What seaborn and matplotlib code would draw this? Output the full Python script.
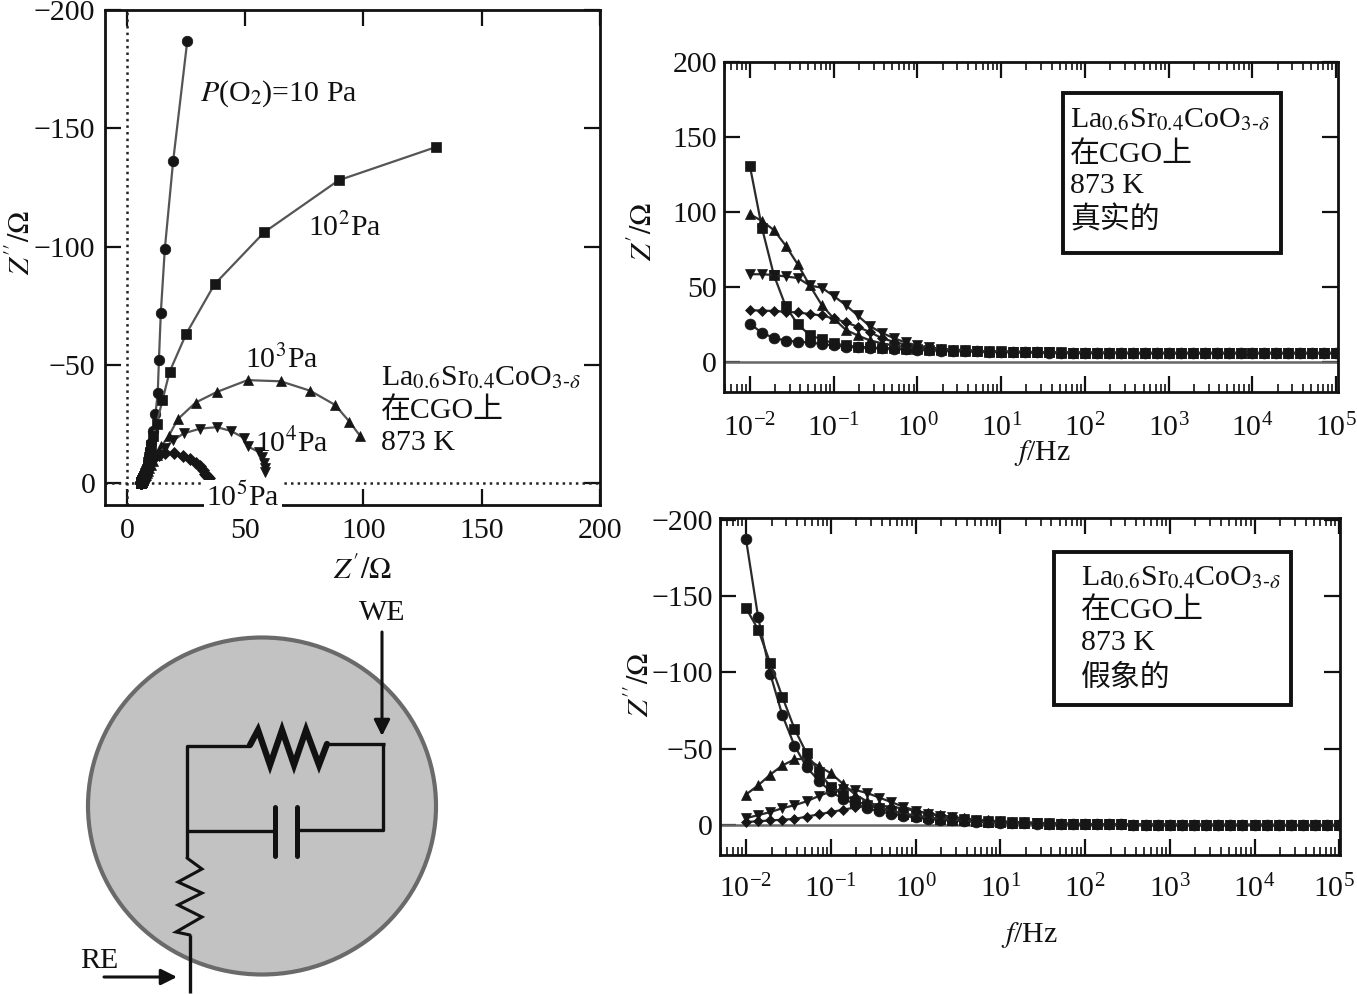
import numpy as np
import pandas as pd
import matplotlib
matplotlib.use("Agg")
import matplotlib.pyplot as plt
from matplotlib.patches import Ellipse, Rectangle
from matplotlib.ticker import FixedLocator, LogLocator, NullFormatter
from matplotlib.transforms import ScaledTranslation
import seaborn as sns

# -----------------------------------------------------
# DATA
# -----------------------------------------------------

freq = [
    0.01, 0.0139, 0.0193, 0.0268, 0.0373, 0.0518, 0.072,
    0.1, 0.139, 0.193, 0.268, 0.373, 0.518, 0.72,
    1, 1.39, 1.93, 2.68, 3.73, 5.18, 7.2,
    10, 13.9, 19.3, 26.8, 37.3, 51.8, 72,
    100, 139, 193, 268, 373, 518, 720,
    1000, 1390, 1930, 2680, 3730, 5180, 7200,
    10000, 13900, 19300, 26800, 37300, 51800, 72000,
    100000,
]

zre_10 = [
    25.5, 19.5, 16, 14.3, 13.5, 13, 12, 11, 10.3, 9.8,
    9.4, 9.1, 8.8, 8.5, 8.2, 7.9, 7.6, 7.4, 7.2, 7.0,
    6.8, 6.7, 6.6, 6.5, 6.4, 6.3, 6.2, 6.2, 6.1, 6.1,
    6.1, 6, 6, 6, 6, 6, 6, 6, 6, 6,
    6, 6, 6, 6, 6, 6, 6, 6, 6, 6,
]
zim_10 = [
    -187, -136, -99, -72, -52, -38, -29, -22, -17, -14,
    -11, -9, -7.5, -6, -5, -4, -3.5, -3, -2.6, -2.2,
    -1.9, -1.6, -1.4, -1.2, -1, -0.9, -0.8, -0.7, -0.6, -0.5,
    -0.4, -0.4, -0.3, -0.3, -0.3, -0.2, -0.2, -0.2, -0.2, -0.1,
    -0.1, -0.1, -0.1, -0.1, 0, 0, 0, 0, 0, 0,
]

zre_100 = [
    130.5, 89.5, 58, 37, 25, 18, 15, 12.5, 11, 10.2,
    9.7, 9.3, 9, 8.7, 8.4, 8.1, 7.8, 7.5, 7.3, 7.1,
    6.9, 6.8, 6.7, 6.6, 6.5, 6.4, 6.3, 6.2, 6.2, 6.1,
    6.1, 6.1, 6, 6, 6, 6, 6, 6, 6, 6,
    6, 6, 6, 6, 6, 6, 6, 6, 6, 6,
]
zim_100 = [
    -142, -128, -106, -84, -63, -47, -35, -25, -20, -16,
    -13, -11, -9, -7.5, -6, -5, -4.2, -3.5, -3, -2.5,
    -2.1, -1.8, -1.5, -1.3, -1.1, -0.9, -0.8, -0.7, -0.6, -0.5,
    -0.4, -0.4, -0.3, -0.3, -0.3, -0.2, -0.2, -0.2, -0.2, -0.1,
    -0.1, -0.1, -0.1, -0.1, 0, 0, 0, 0, 0, 0,
]

zre_1000 = [
    98.5, 94, 88, 77.5, 65, 51, 38, 29, 21.5, 17.7,
    14.5, 12.5, 11, 10, 9.3, 8.8, 8.4, 8, 7.7, 7.4,
    7.1, 6.9, 6.8, 6.7, 6.6, 6.5, 6.4, 6.3, 6.2, 6.2,
    6.1, 6.1, 6, 6, 6, 6, 6, 6, 6, 6,
    6, 6, 6, 6, 6, 6, 6, 6, 6, 6,
]
zim_1000 = [
    -20, -26, -33, -39, -43, -43.5, -38.5, -34, -27, -20,
    -15.5, -12, -9.5, -7.5, -6.2, -5, -4.2, -3.5, -3, -2.5,
    -2.1, -1.8, -1.5, -1.3, -1.1, -0.9, -0.8, -0.7, -0.6, -0.5,
    -0.4, -0.4, -0.3, -0.3, -0.3, -0.2, -0.2, -0.2, -0.2, -0.1,
    -0.1, -0.1, -0.1, -0.1, 0, 0, 0, 0, 0, 0,
]

zre_1e4 = [
    58.5, 58.5, 58, 57, 56, 51, 49.5, 44, 38, 31,
    24, 19.5, 16, 13, 11, 9.7, 8.9, 8.3, 7.9, 7.5,
    7.2, 7, 6.8, 6.7, 6.6, 6.5, 6.4, 6.3, 6.2, 6.2,
    6.1, 6.1, 6, 6, 6, 6, 6, 6, 6, 6,
    6, 6, 6, 6, 6, 6, 6, 6, 6, 6,
]
zim_1e4 = [
    -4.5, -6.5, -8.5, -11, -13, -15.5, -19, -22, -23.6, -23,
    -21, -18, -15, -12, -9.5, -7.5, -6, -5, -4, -3.4,
    -2.8, -2.4, -2, -1.7, -1.4, -1.2, -1, -0.8, -0.7, -0.6,
    -0.5, -0.4, -0.3, -0.3, -0.3, -0.2, -0.2, -0.2, -0.2, -0.1,
    -0.1, -0.1, -0.1, -0.1, 0, 0, 0, 0, 0, 0,
]

zre_1e5 = [
    34.5, 34.3, 34, 33.5, 33, 32, 31, 29, 26.5, 23.5,
    20, 16, 13.5, 11.5, 10, 9, 8.4, 8, 7.6, 7.3,
    7, 6.8, 6.7, 6.6, 6.5, 6.4, 6.3, 6.2, 6.2, 6.1,
    6.1, 6.1, 6, 6, 6, 6, 6, 6, 6, 6,
    6, 6, 6, 6, 6, 6, 6, 6, 6, 6,
]
zim_1e5 = [
    -2, -2.5, -3, -3.5, -4, -5.5, -7, -8.5, -10, -11.5,
    -12.5, -12.7, -12, -10.8, -9.3, -7.8, -6.5, -5.4, -4.4, -3.6,
    -3, -2.5, -2.1, -1.8, -1.5, -1.2, -1, -0.8, -0.7, -0.6,
    -0.5, -0.4, -0.3, -0.3, -0.3, -0.2, -0.2, -0.2, -0.2, -0.1,
    -0.1, -0.1, -0.1, -0.1, 0, 0, 0, 0, 0, 0,
]

pressures = ["10", "100", "1000", "1e4", "1e5"]
zre_all = [zre_10, zre_100, zre_1000, zre_1e4, zre_1e5]
zim_all = [zim_10, zim_100, zim_1000, zim_1e4, zim_1e5]

df = pd.concat(
    [
        pd.DataFrame({"p": p, "f": freq, "zre": re, "zim": im})
        for p, re, im in zip(pressures, zre_all, zim_all)
    ],
    ignore_index=True,
)

markers = {"10": "o", "100": "s", "1000": "^", "1e4": "v", "1e5": "D"}
sizes_left = {"10": 7.6, "100": 6.6, "1000": 6.6, "1e4": 6.6, "1e5": 6.0}
sizes_right = {"10": 7.8, "100": 7.0, "1000": 7.0, "1e4": 7.0, "1e5": 5.0}

# -----------------------------------------------------
# FIGURE SETUP
# -----------------------------------------------------

W, H = 1357, 994
FS = 21.5

sns.set_theme(style="ticks")
plt.rcParams["font.family"] = ["Liberation Serif", "Noto Sans CJK SC", "DejaVu Sans"]
plt.rcParams["mathtext.fontset"] = "stix"
plt.rcParams["axes.unicode_minus"] = True

fig = plt.figure(figsize=(W / 100, H / 100), dpi=100, facecolor="white")


def px_axes(left, top, right, bottom):
    return fig.add_axes([left / W, 1 - bottom / H, (right - left) / W, (bottom - top) / H])


def draw_series(ax, xcol, ycol, line_color, sizes):
    for p in pressures:
        sns.lineplot(
            data=df[df["p"] == p],
            x=xcol,
            y=ycol,
            sort=False,
            estimator=None,
            ax=ax,
            color=line_color,
            linewidth=1.6,
            marker=markers[p],
            markersize=sizes[p],
            markerfacecolor="#161616",
            markeredgecolor="#161616",
            markeredgewidth=0.5,
            zorder=3,
        )


def style_axes(ax, lw=2.0):
    for s in ax.spines.values():
        s.set_linewidth(lw)
        s.set_color("#111111")
    ax.tick_params(
        which="major", direction="in", top=True, right=True, length=11.5, width=1.6,
        color="#111111", labelsize=FS, labelcolor="#111111",
    )


def label_at(ax, axis, text, px, py):
    # put an axis label at a given pixel position
    x0, y0, w, h = ax.get_position().bounds
    ax_x = (px / W - x0) / w
    ax_y = ((1 - py / H) - y0) / h
    if axis == "x":
        ax.set_xlabel(text, fontsize=FS, color="#111111")
        ax.xaxis.set_label_coords(ax_x, ax_y)
        ax.xaxis.label.set_va("center")
    else:
        ax.set_ylabel(text, fontsize=FS, color="#111111")
        ax.yaxis.set_label_coords(ax_x, ax_y)
        ax.yaxis.label.set_va("center")


# -----------------------------------------------------
# NYQUIST PLOT
# -----------------------------------------------------

ax1 = px_axes(105, 10, 600, 505)
draw_series(ax1, "zre", "zim", "#555555", sizes_left)
ax1.axvline(0, color="#222222", linestyle=":", linewidth=1.8, zorder=1)
ax1.axhline(0, color="#222222", linestyle=":", linewidth=1.8, zorder=1)
ax1.set_xlim(-9.3, 200)
ax1.set_ylim(9.3, -200)
ax1.xaxis.set_major_locator(FixedLocator([0, 50, 100, 150, 200]))
ax1.yaxis.set_major_locator(FixedLocator([-200, -150, -100, -50, 0]))
style_axes(ax1)
ax1.tick_params(axis="x", pad=9)
ax1.tick_params(axis="y", pad=7)
label_at(ax1, "x", r"$Z^{\prime}/\mathrm{\Omega}$", 362, 571)
label_at(ax1, "y", r"$Z^{\prime\prime}/\mathrm{\Omega}$", 22, 243)

# -----------------------------------------------------
# BODE PLOTS
# -----------------------------------------------------

ax2 = px_axes(724, 62, 1338, 392)
ax3 = px_axes(720, 518, 1340, 855)
for ax, ycol, xpad in [(ax2, "zre", 16), (ax3, "zim", 14)]:
    ax.set_xscale("log")
    draw_series(ax, "f", ycol, "#2a2a2a", sizes_right)
    ax.axhline(0, color="#666666", linewidth=1.8, zorder=2)
    style_axes(ax)
    ax.xaxis.set_major_locator(LogLocator(base=10, numticks=20))
    ax.xaxis.set_minor_locator(LogLocator(base=10, subs=np.arange(2, 10), numticks=20))
    ax.xaxis.set_minor_formatter(NullFormatter())
    ax.tick_params(which="minor", direction="in", top=True, length=5.5, width=1.2, color="#111111")
    ax.tick_params(axis="x", pad=xpad)
    ax.tick_params(axis="y", pad=5)

ax2.set_xlim(0.0049, 105000)
ax2.set_ylim(-20, 200)
ax2.yaxis.set_major_locator(FixedLocator([0, 50, 100, 150, 200]))
label_at(ax2, "x", r"$f$/Hz", 1043, 453)
label_at(ax2, "y", r"$Z^{\prime}/\mathrm{\Omega}$", 644, 232)

ax3.set_xlim(0.00493, 102000)
ax3.set_ylim(19.6, -201)
ax3.yaxis.set_major_locator(FixedLocator([-200, -150, -100, -50, 0]))
label_at(ax3, "x", r"$f$/Hz", 1030, 935)
label_at(ax3, "y", r"$Z^{\prime\prime}/\mathrm{\Omega}$", 641, 685)

# the last decade label sits tight against the image edge, nudge it inward
fig.canvas.draw()
for tick in ax3.xaxis.get_major_ticks():
    if abs(tick.get_loc() - 1e5) < 1:
        lab = tick.label1
        lab.set_transform(lab.get_transform() + ScaledTranslation(-5 / 100, 0, fig.dpi_scale_trans))

# -----------------------------------------------------
# OVERLAY: TEXT, BOXES, CIRCUIT (pixel coordinates)
# -----------------------------------------------------

ov = fig.add_axes([0, 0, 1, 1], zorder=5)
ov.set_xlim(0, W)
ov.set_ylim(H, 0)
ov.axis("off")
ov.patch.set_alpha(0)


def put(x, y, s, **kw):
    ov.text(x, y + 3, s, fontsize=FS, color="#111111", va="center", ha="left", **kw)


material = r"La$_{0.6}$Sr$_{0.4}$CoO$_{3\text{-}\delta}$"

# pressure labels on the Nyquist plot
put(200, 91, r"$P$(O$_2$)=10 Pa")
put(308, 225, r"10$^2$Pa")
put(245, 357, r"10$^3$Pa")
put(255, 440, r"10$^4$Pa")
put(206, 494, r"10$^5$Pa", bbox=dict(facecolor="white", edgecolor="none", pad=1.5))
put(381, 375, material)
put(381, 408, "在CGO上")
put(381, 440, "873 K")

# boxed notes
ov.add_patch(Rectangle((1063, 93), 218, 160, fill=False, edgecolor="#111111", linewidth=2.8))
put(1070, 117, material)
put(1070, 152, "在CGO上")
put(1070, 183, "873 K")
put(1070, 217, "真实的")

ov.add_patch(Rectangle((1054, 552), 237, 153, fill=False, edgecolor="#111111", linewidth=2.8))
put(1081, 575, material)
put(1081, 608, "在CGO上")
put(1081, 640, "873 K")
put(1081, 675, "假象的")

# equivalent circuit
ov.add_patch(Ellipse((262, 806), 348, 337, facecolor="#c2c2c2", edgecolor="#6a6a6a", linewidth=3))
wire = dict(color="#111111", linewidth=2.4, solid_capstyle="butt")
ov.plot([250, 187, 187], [746, 746, 858], **wire)
ov.plot([327, 385], [744, 744], **wire)
ov.plot([383, 383, 297], [743, 830, 830], **wire)
ov.plot([187, 275], [831, 831], **wire)
ov.plot([250, 258, 270, 282, 294, 306, 319, 327], [745, 730, 765, 730, 765, 730, 765, 744],
        color="#111111", linewidth=4.5, solid_joinstyle="miter")
ov.plot([275, 275], [807, 856], color="#111111", linewidth=3.6)
ov.plot([297, 297], [807, 856], color="#111111", linewidth=3.6)
ov.plot([187, 202, 178, 202, 178, 202, 176, 190], [858, 869, 882, 893, 905, 917, 932, 935],
        color="#111111", linewidth=2.2, solid_joinstyle="miter")
ov.plot([190, 190], [935, 993], **wire)
ov.annotate("", xy=(382, 736), xytext=(382, 632),
            arrowprops=dict(arrowstyle="-|>", color="#111111", lw=2.2, mutation_scale=24, shrinkA=0, shrinkB=0))
ov.annotate("", xy=(177, 977), xytext=(104, 977),
            arrowprops=dict(arrowstyle="-|>", color="#111111", lw=2.2, mutation_scale=24, shrinkA=0, shrinkB=0))
put(359, 610, "WE")
put(80, 958, "RE")

fig.savefig("out.png", dpi=100, facecolor="white")
